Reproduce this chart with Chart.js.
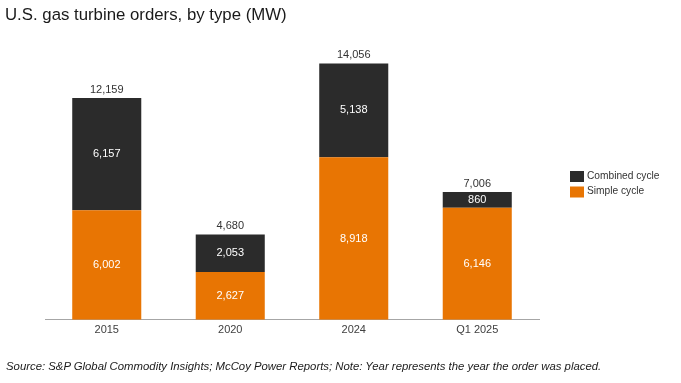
<!DOCTYPE html>
<html><head><meta charset="utf-8">
<script src="https://cdn.jsdelivr.net/npm/chart.js@4"></script>
<style>
html,body{margin:0;padding:0;background:#fff;}
#wrap{position:relative;width:681px;height:383px;overflow:hidden;font-family:"Liberation Sans",Arial,sans-serif;}
#title{position:absolute;left:5px;top:5px;font-size:16.8px;color:#1a1a1a;white-space:nowrap;}
#source{position:absolute;left:6px;top:360px;font-size:11.35px;font-style:italic;color:#1a1a1a;white-space:nowrap;}
canvas{position:absolute;left:0;top:0;}
</style></head>
<body><div id="wrap">
<canvas id="c" width="681" height="383"></canvas>
<div id="title">U.S. gas turbine orders, by type (MW)</div>
<div id="source">Source: S&amp;P Global Commodity Insights; McCoy Power Reports; Note: Year represents the year the order was placed.</div>
</div>
<script>
const categories = ["2015", "2020", "2024", "Q1 2025"];
const simpleCycle = [6002, 2627, 8918, 6146];
const combinedCycle = [6157, 2053, 5138, 860];
const seriesNames = ["Simple cycle", "Combined cycle"];
const colors = ["#E87503", "#2B2B2B"];

const fmt = v => v.toLocaleString("en-US");

const labelPlugin = {
  id: "labels",
  afterDatasetsDraw(chart) {
    const ctx = chart.ctx;
    ctx.save();
    ctx.font = '11px "Liberation Sans", Arial, sans-serif';
    ctx.textAlign = "center";
    ctx.textBaseline = "middle";
    const n = chart.data.labels.length;
    for (let i = 0; i < n; i++) {
      let total = 0, topY = Infinity, x = 0;
      chart.data.datasets.forEach((ds, di) => {
        const el = chart.getDatasetMeta(di).data[i];
        const v = ds.data[i];
        total += v;
        x = el.x;
        topY = Math.min(topY, el.y);
        ctx.fillStyle = "#ffffff";
        ctx.fillText(fmt(v), el.x, (el.y + el.base) / 2);
      });
      ctx.fillStyle = "#333333";
      ctx.fillText(fmt(total), x, topY - 8);
    }
    // legend
    const items = chart.data.datasets.slice().reverse();
    const lx = 570, ly0 = 176;
    ctx.font = '10.2px "Liberation Sans", Arial, sans-serif';
    items.forEach((ds, k) => {
      const y = ly0 + k * 15.5;
      ctx.fillStyle = ds.backgroundColor;
      ctx.fillRect(lx, y - 5, 14, 11);
      ctx.fillStyle = "#333333";
      ctx.textAlign = "left";
      ctx.fillText(ds.label, lx + 17, y);
    });
    ctx.restore();
  }
};

new Chart(document.getElementById("c"), {
  type: "bar",
  data: {
    labels: categories,
    datasets: [
      { label: seriesNames[0], data: simpleCycle, backgroundColor: colors[0], borderWidth: 0 },
      { label: seriesNames[1], data: combinedCycle, backgroundColor: colors[1], borderWidth: 0 }
    ]
  },
  options: {
    responsive: false,
    animation: false,
    devicePixelRatio: 1,
    layout: { padding: { left: 45, right: 142, top: 28, bottom: 42 } },
    plugins: { legend: { display: false }, tooltip: { enabled: false } },
    datasets: { bar: { categoryPercentage: 1, barPercentage: 0.559 } },
    scales: {
      x: {
        stacked: true,
        grid: { display: false, drawTicks: false },
        border: { display: true, color: "#a6a6a6", width: 1 },
        ticks: { color: "#404040", padding: 4, font: { size: 11, family: '"Liberation Sans", Arial, sans-serif' } }
      },
      y: { stacked: true, display: false, min: 0, max: 16000 }
    }
  },
  plugins: [labelPlugin]
});
</script>
</body></html>
